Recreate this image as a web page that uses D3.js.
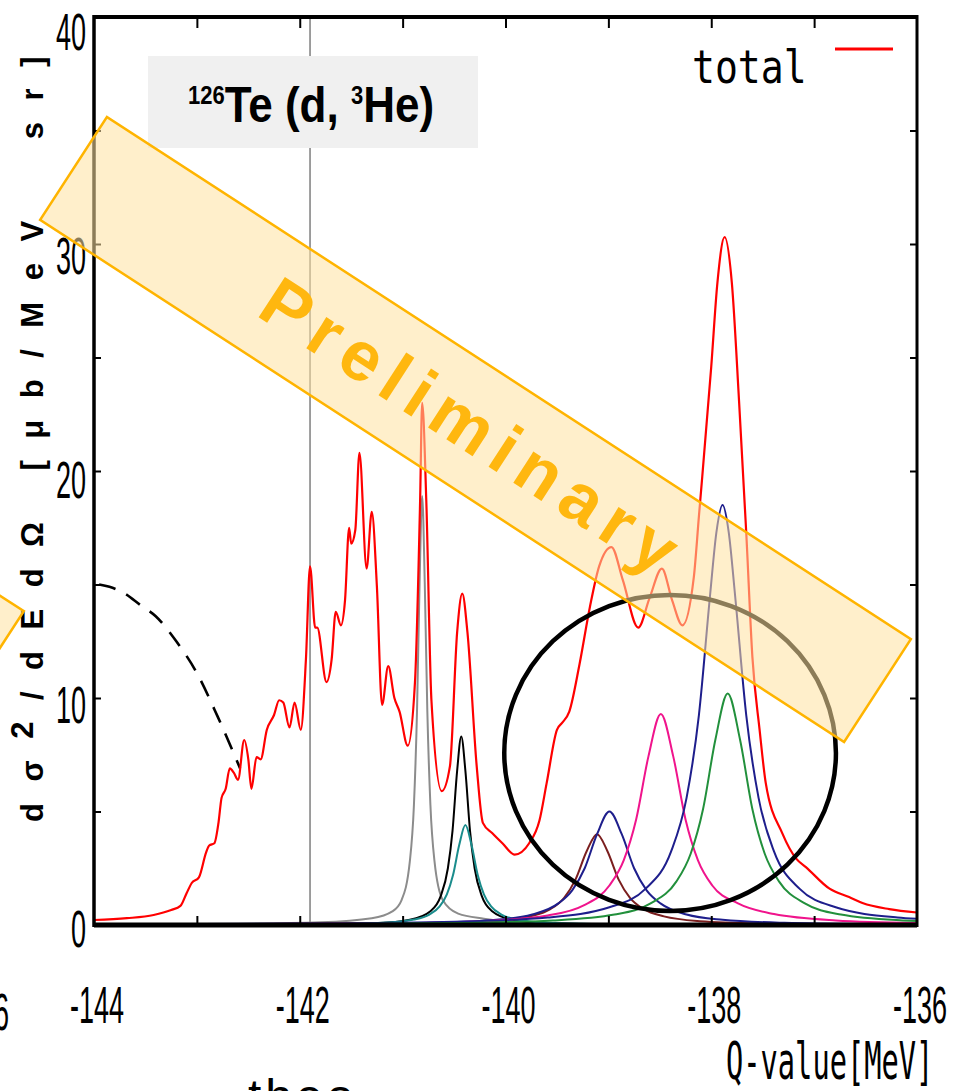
<!DOCTYPE html>
<html>
<head>
<meta charset="utf-8">
<script src="https://cdn.jsdelivr.net/npm/d3@7"></script>
<style>
  body { margin: 0; background: #fff; }
  svg { display: block; }
</style>
</head>
<body>
<svg id="chart" width="954" height="1091"></svg>
<script>
// ---- data -------------------------------------------------------------
const xTicks = [-144, -142, -140, -138, -136];
const xTickLabels = ["-144", "-142", "-140", "-138", "-136"];
const yTicks = [0, 10, 20, 30, 40];
const yTickLabels = ["0", "10", "20", "30", "40"];
const legendLabel = "total";
const titleMass = "126";
const titleHeMass = "3";
const xAxisTitle = "Q-value[MeV]";

// threshold marker (MeV)
const threshold = -141.9;

// total spectrum [Q-value MeV, dσ/dEdΩ]
const totalCurve = [
  [-144.00, 0.22], [-143.68, 0.30], [-143.42, 0.44], [-143.25, 0.66], [-143.16, 0.84],
  [-143.10, 1.40], [-143.05, 1.85], [-142.98, 2.10], [-142.91, 3.20], [-142.88, 3.50],
  [-142.83, 3.60], [-142.79, 4.50], [-142.76, 5.60], [-142.72, 6.00], [-142.68, 6.90],
  [-142.64, 6.70], [-142.60, 6.40], [-142.54, 8.15], [-142.50, 7.30], [-142.47, 6.00],
  [-142.42, 7.40], [-142.38, 7.30], [-142.32, 8.60], [-142.25, 9.25], [-142.20, 9.90],
  [-142.16, 9.80], [-142.10, 8.70], [-142.05, 9.80], [-141.99, 8.60], [-141.94, 11.7],
  [-141.90, 15.8], [-141.85, 13.1], [-141.83, 13.1], [-141.74, 10.7], [-141.69, 11.7],
  [-141.65, 13.8], [-141.60, 13.2], [-141.56, 14.3], [-141.52, 17.5], [-141.50, 16.8],
  [-141.46, 17.4], [-141.42, 20.8], [-141.35, 15.7], [-141.30, 18.2], [-141.25, 14.9],
  [-141.20, 9.7], [-141.14, 11.4], [-141.08, 10.0], [-141.03, 9.4], [-140.95, 7.9],
  [-140.88, 10.7], [-140.83, 18.7], [-140.81, 23.0], [-140.77, 18.7], [-140.72, 9.9],
  [-140.62, 5.9], [-140.54, 7.0], [-140.47, 12.9], [-140.42, 14.6], [-140.37, 12.9],
  [-140.28, 7.0], [-140.22, 4.5], [-140.13, 4.05], [-140.03, 3.6], [-139.91, 3.1],
  [-139.77, 3.6], [-139.67, 4.6], [-139.60, 6.25], [-139.50, 8.6], [-139.45, 8.9],
  [-139.38, 9.4], [-139.28, 11.5], [-139.18, 14.0], [-139.09, 15.8], [-138.97, 16.65],
  [-138.86, 15.2], [-138.71, 13.1], [-138.60, 14.4], [-138.48, 15.7], [-138.38, 14.3],
  [-138.28, 13.2], [-138.17, 15.3], [-138.12, 18.0], [-138.00, 24.6], [-137.94, 28.3],
  [-137.87, 30.3], [-137.80, 28.3], [-137.73, 23.1], [-137.66, 17.3], [-137.60, 11.8],
  [-137.53, 8.6], [-137.47, 6.25], [-137.31, 4.05], [-137.17, 2.9], [-137.08, 2.55],
  [-136.85, 1.6], [-136.66, 1.23], [-136.53, 0.97], [-136.27, 0.7], [-136.00, 0.55]
];

// quasi-free background (dashed)
const backgroundCurve = [
  [-143.95, 15.0], [-143.85, 14.9], [-143.7, 14.6], [-143.55, 14.1], [-143.4, 13.6],
  [-143.2, 12.5], [-143.0, 11.1], [-142.8, 9.2], [-142.58, 6.9]
];

// individual states
const stateGray = [
  [-144, 0.02], [-142.8, 0.04], [-141.8, 0.12], [-141.3, 0.3], [-141.1, 0.6],
  [-141.01, 1.1], [-140.93, 2.8], [-140.89, 5.3], [-140.86, 9.45], [-140.835, 15.1],
  [-140.81, 18.9], [-140.785, 15.1], [-140.76, 9.45], [-140.73, 5.3], [-140.69, 2.8],
  [-140.61, 1.1], [-140.46, 0.5], [-140.21, 0.28], [-139.81, 0.12], [-138.8, 0.04], [-136, 0.01]
];
const stateBlack = [
  [-144, 0.01], [-142.5, 0.02], [-141.23, 0.09], [-140.93, 0.23], [-140.73, 0.61],
  [-140.63, 1.27], [-140.56, 2.5], [-140.515, 4.15], [-140.47, 6.8], [-140.43, 8.3],
  [-140.39, 6.8], [-140.345, 4.15], [-140.30, 2.5], [-140.23, 1.27], [-140.13, 0.61],
  [-139.93, 0.23], [-139.63, 0.09], [-138.9, 0.03], [-136, 0.01]
];
const stateTeal = [
  [-144, 0.01], [-142.5, 0.01], [-141.89, 0.028], [-141.19, 0.097], [-140.89, 0.24],
  [-140.74, 0.46], [-140.64, 0.82], [-140.57, 1.35], [-140.51, 2.2], [-140.45, 3.52],
  [-140.39, 4.4], [-140.33, 3.52], [-140.27, 2.2], [-140.21, 1.35], [-140.14, 0.82],
  [-140.04, 0.46], [-139.89, 0.24], [-139.59, 0.097], [-138.89, 0.028], [-136, 0.01]
];
const stateBrown = [
  [-144, 0.01], [-141.61, 0.028], [-140.71, 0.068], [-140.11, 0.17], [-139.76, 0.38],
  [-139.56, 0.71], [-139.43, 1.2], [-139.32, 2.0], [-139.21, 3.26], [-139.11, 4.0],
  [-139.01, 3.26], [-138.90, 2.0], [-138.79, 1.2], [-138.66, 0.71], [-138.46, 0.38],
  [-138.11, 0.17], [-137.51, 0.068], [-136.61, 0.028], [-136, 0.018]
];
const stateNavySmall = [
  [-144, 0.01], [-141.59, 0.042], [-140.69, 0.098], [-140.09, 0.23], [-139.74, 0.46],
  [-139.49, 0.94], [-139.35, 1.54], [-139.23, 2.5], [-139.11, 4.0], [-138.99, 5.0],
  [-138.87, 4.0], [-138.75, 2.5], [-138.63, 1.54], [-138.49, 0.94], [-138.24, 0.46],
  [-137.89, 0.23], [-137.29, 0.098], [-136.39, 0.042], [-136, 0.033]
];
const stateMagenta = [
  [-144, 0.02], [-141.09, 0.079], [-140.19, 0.18], [-139.59, 0.42], [-139.24, 0.86],
  [-138.99, 1.74], [-138.85, 2.86], [-138.73, 4.65], [-138.61, 7.44], [-138.49, 9.3],
  [-138.37, 7.44], [-138.25, 4.65], [-138.13, 2.86], [-137.99, 1.74], [-137.74, 0.95],
  [-137.39, 0.48], [-136.79, 0.2], [-136, 0.09]
];
const stateNavyLarge = [
  [-144, 0.026], [-141.89, 0.061], [-140.49, 0.144], [-139.59, 0.33], [-138.99, 0.78],
  [-138.64, 1.59], [-138.39, 3.24], [-138.24, 5.6], [-138.12, 9.25], [-138.01, 14.6],
  [-137.95, 17.3], [-137.89, 18.5], [-137.83, 17.3], [-137.77, 14.6], [-137.66, 9.25],
  [-137.54, 5.6], [-137.39, 3.24], [-137.14, 1.59], [-136.79, 0.78], [-136.19, 0.33], [-136, 0.27]
];
const stateGreen = [
  [-144, 0.015], [-141.84, 0.036], [-140.44, 0.087], [-139.54, 0.2], [-138.94, 0.46],
  [-138.59, 0.95], [-138.34, 1.91], [-138.20, 3.14], [-138.08, 5.1], [-137.96, 8.16],
  [-137.84, 10.2], [-137.72, 8.16], [-137.60, 5.1], [-137.48, 3.14], [-137.34, 1.91],
  [-137.09, 0.95], [-136.74, 0.46], [-136.14, 0.2], [-136, 0.17]
];

const states = [
  { data: stateGray,      color: "#8c8c8c" },
  { data: stateBlack,     color: "#000000" },
  { data: stateTeal,      color: "#1a8c8c" },
  { data: stateBrown,     color: "#7a1e1e" },
  { data: stateNavySmall, color: "#1e1e8c" },
  { data: stateMagenta,   color: "#f0148c" },
  { data: stateNavyLarge, color: "#1e1e8c" },
  { data: stateGreen,     color: "#22903c" }
];

// region of interest ellipse [centre Q, centre σ, half-width MeV, half-height]
const roiEllipse = [-138.40, 7.58, 1.612, 6.96];

// ---- scales -----------------------------------------------------------
const svg = d3.select("#chart");
const x = d3.scaleLinear().domain([-144, -136]).range([94, 917]);
const y = d3.scaleLinear().domain([0, 40]).range([925, 17]);

const line = d3.line()
  .x(d => x(d[0]))
  .y(d => y(d[1]))
  .curve(d3.curveMonotoneX);

const narrow = "'Liberation Sans', Arial, sans-serif";
const mono = "'DejaVu Sans Mono', monospace";

// ---- threshold line ---------------------------------------------------
svg.append("line")
  .attr("x1", x(threshold)).attr("x2", x(threshold))
  .attr("y1", y(40)).attr("y2", y(0))
  .attr("stroke", "#868686").attr("stroke-width", 1.6);

// ---- title box --------------------------------------------------------
svg.append("rect")
  .attr("x", 148).attr("y", 56).attr("width", 330).attr("height", 92)
  .attr("fill", "#f0f0f0");
const title = svg.append("text")
  .attr("transform", "translate(188,122) scale(0.88,1)")
  .attr("font-family", narrow).attr("font-weight", "bold")
  .attr("font-size", 50).attr("fill", "#000");
title.append("tspan").attr("font-size", 25).attr("dy", -18).text(titleMass);
title.append("tspan").attr("dy", 18).text("Te (d, ");
title.append("tspan").attr("font-size", 25).attr("dy", -18).text(titleHeMass);
title.append("tspan").attr("dy", 18).text("He)");

// ---- curves -----------------------------------------------------------
const plot = svg.append("g");
plot.append("path")
  .datum(backgroundCurve)
  .attr("d", line)
  .attr("fill", "none").attr("stroke", "#000")
  .attr("stroke-width", 2.6).attr("stroke-dasharray", "17,12");

states.forEach(s => {
  plot.append("path")
    .datum(s.data)
    .attr("d", line)
    .attr("fill", "none").attr("stroke", s.color).attr("stroke-width", 2);
});

plot.append("path")
  .datum(totalCurve)
  .attr("d", line)
  .attr("fill", "none").attr("stroke", "#ff0000").attr("stroke-width", 2.2);

// ---- axes -------------------------------------------------------------
const xMinor = d3.range(-143, -136, 1);
const yMinor = d3.range(5, 40, 5);

function styleAxis(g) {
  g.select(".domain").remove();
  g.selectAll(".tick line").attr("stroke", "#000").attr("stroke-width", 2);
}
svg.append("g").attr("transform", `translate(0,${y(0)})`)
  .call(d3.axisBottom(x).tickValues(xMinor).tickSize(-9).tickFormat(""))
  .call(styleAxis);
svg.append("g").attr("transform", `translate(0,${y(40)})`)
  .call(d3.axisTop(x).tickValues(xMinor).tickSize(-11).tickFormat(""))
  .call(styleAxis);
svg.append("g").attr("transform", `translate(${x(-144)},0)`)
  .call(d3.axisLeft(y).tickValues(yMinor).tickSize(-7).tickFormat(""))
  .call(styleAxis);
svg.append("g").attr("transform", `translate(${x(-136)},0)`)
  .call(d3.axisRight(y).tickValues(yMinor).tickSize(-7).tickFormat(""))
  .call(styleAxis);

// frame
const frame = svg.append("g").attr("stroke", "#000");
frame.append("line").attr("x1", x(-144)).attr("x2", x(-136)).attr("y1", y(40)).attr("y2", y(40)).attr("stroke-width", 4);
frame.append("line").attr("x1", x(-144)).attr("x2", x(-136)).attr("y1", y(0)).attr("y2", y(0)).attr("stroke-width", 5);
frame.append("line").attr("x1", x(-144)).attr("x2", x(-144)).attr("y1", y(40) - 2).attr("y2", y(0) + 2).attr("stroke-width", 3.5);
frame.append("line").attr("x1", x(-136)).attr("x2", x(-136)).attr("y1", y(40) - 2).attr("y2", y(0) + 2).attr("stroke-width", 3);

// tick labels
xTicks.forEach((v, i) => {
  svg.append("text")
    .attr("transform", `translate(${x(v) + 3},1023) scale(0.52,1)`)
    .attr("text-anchor", "middle")
    .attr("font-family", narrow).attr("font-size", 52).attr("fill", "#000")
    .text(xTickLabels[i]);
});
yTicks.forEach((v, i) => {
  // labels sit a little lower the higher they are on the axis
  svg.append("text")
    .attr("transform", `translate(86,${y(v) + 22 + v * 0.27}) scale(0.52,1)`)
    .attr("text-anchor", "end")
    .attr("font-family", narrow).attr("font-size", 52).attr("fill", "#000")
    .text(yTickLabels[i]);
});
// neighbouring panel's last tick label, cut by the page edge
svg.append("text")
  .attr("transform", "translate(9,1030) scale(0.52,1)")
  .attr("text-anchor", "end")
  .attr("font-family", narrow).attr("font-size", 52).attr("fill", "#000")
  .text("-136");

// axis titles (monospace glyphs stretched vertically)
svg.append("text")
  .attr("transform", "translate(726,1079) scale(0.99,1.8)")
  .attr("font-family", mono).attr("font-size", 29).attr("fill", "#000")
  .text(xAxisTitle);

const yTitle = svg.append("text")
  .attr("transform", "translate(43,822) rotate(-90)")
  .attr("font-family", narrow).attr("font-size", 31).attr("font-weight", "bold")
  .attr("letter-spacing", 21.5).attr("fill", "#000")
  .style("white-space", "pre");
yTitle.append("tspan").text("dσ");
yTitle.append("tspan").attr("dy", -10).text("2");
yTitle.append("tspan").attr("dy", 10).text("/dEdΩ [μb/MeV  sr]");

svg.append("text")
  .attr("x", 248).attr("y", 1113)
  .attr("font-family", narrow).attr("font-size", 48)
  .attr("letter-spacing", 4).attr("fill", "#000")
  .text("theo");

// legend
svg.append("text")
  .attr("transform", "translate(692,83) scale(0.81,1)")
  .attr("font-family", mono).attr("font-size", 47).attr("fill", "#000")
  .text(legendLabel);
svg.append("line")
  .attr("x1", 835).attr("x2", 893).attr("y1", 49).attr("y2", 49)
  .attr("stroke", "#ff0000").attr("stroke-width", 3);

// ---- region of interest ----------------------------------------------
svg.append("ellipse")
  .attr("cx", x(roiEllipse[0])).attr("cy", y(roiEllipse[1]))
  .attr("rx", x(roiEllipse[0] + roiEllipse[2]) - x(roiEllipse[0]))
  .attr("ry", y(0) - y(roiEllipse[3]))
  .attr("fill", "none").attr("stroke", "#000").attr("stroke-width", 4.5);

// ---- "Preliminary" stamps ---------------------------------------------
function stamp(cx, cy, withText) {
  const g = svg.append("g").attr("transform", `translate(${cx},${cy}) rotate(33)`);
  g.append("rect")
    .attr("x", -479.3).attr("y", -61.3).attr("width", 958.6).attr("height", 122.6)
    .attr("fill", "rgb(255,225,160)").attr("fill-opacity", 0.55)
    .attr("stroke", "#ffb400").attr("stroke-width", 2.5);
  if (withText) {
    g.append("text")
      .attr("x", -2).attr("y", 24)
      .attr("text-anchor", "middle")
      .attr("font-family", narrow).attr("font-weight", "bold")
      .attr("font-size", 70).attr("letter-spacing", 10)
      .attr("fill", "#ffb70f")
      .text("Preliminary");
  }
}
stamp(475.5, 429.5, true);
stamp(-411.5, 401.5, false);
</script>
</body>
</html>
